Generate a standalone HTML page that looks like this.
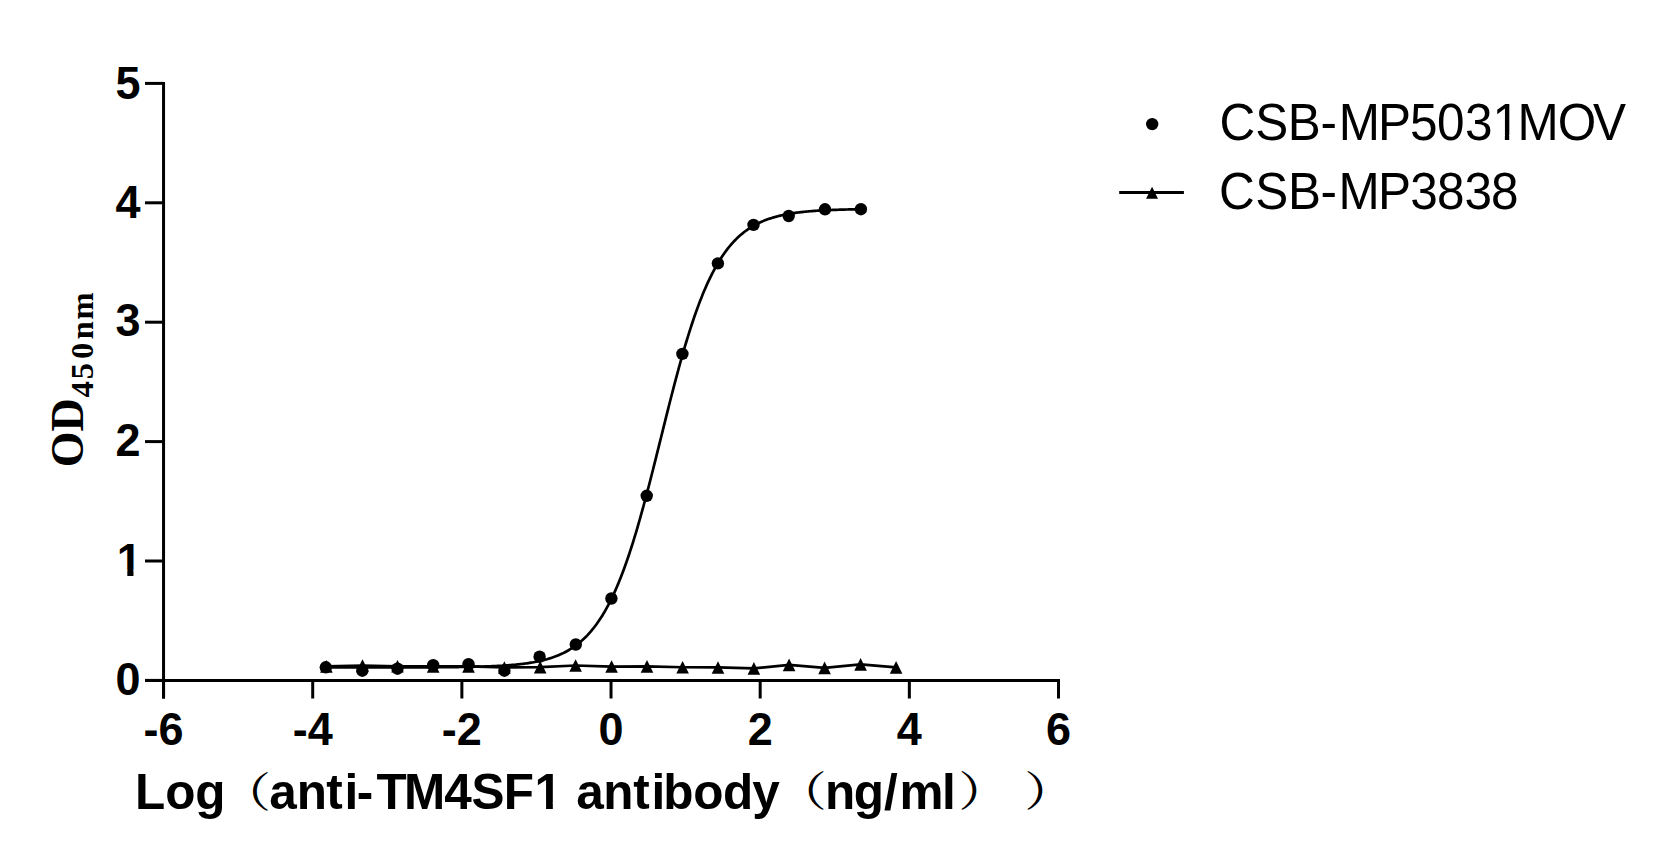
<!DOCTYPE html>
<html><head><meta charset="utf-8"><title>ELISA binding curve</title>
<style>html,body{margin:0;padding:0;background:#fff;}body{width:1667px;height:863px;overflow:hidden;}svg{display:block;}</style>
</head><body>
<svg width="1667" height="863" viewBox="0 0 1667 863">
<rect width="1667" height="863" fill="#fff"/>
<g stroke="#000" stroke-width="3" fill="none">
<path d="M163.55,81.90 V698.5"/>
<path d="M145,680.40 H1060.00"/>
<path d="M145,680.40 H163.55"/>
<path d="M145,561.00 H163.55"/>
<path d="M145,441.60 H163.55"/>
<path d="M145,322.20 H163.55"/>
<path d="M145,202.80 H163.55"/>
<path d="M145,83.40 H163.55"/>
<path d="M163.55,680.40 V698.5"/>
<path d="M312.71,680.40 V698.5"/>
<path d="M461.87,680.40 V698.5"/>
<path d="M611.03,680.40 V698.5"/>
<path d="M760.18,680.40 V698.5"/>
<path d="M909.34,680.40 V698.5"/>
<path d="M1058.50,680.40 V698.5"/>
</g>
<polyline points="325.80,667.41 327.14,667.41 328.48,667.41 329.82,667.41 331.16,667.41 332.51,667.41 333.85,667.41 335.19,667.41 336.53,667.41 337.87,667.41 339.21,667.41 340.55,667.41 341.89,667.41 343.23,667.40 344.58,667.40 345.92,667.40 347.26,667.40 348.60,667.40 349.94,667.40 351.28,667.40 352.62,667.40 353.96,667.40 355.30,667.40 356.65,667.40 357.99,667.40 359.33,667.40 360.67,667.40 362.01,667.40 363.35,667.40 364.69,667.40 366.03,667.40 367.37,667.40 368.72,667.40 370.06,667.39 371.40,667.39 372.74,667.39 374.08,667.39 375.42,667.39 376.76,667.39 378.10,667.39 379.44,667.39 380.79,667.39 382.13,667.39 383.47,667.38 384.81,667.38 386.15,667.38 387.49,667.38 388.83,667.38 390.17,667.38 391.51,667.38 392.86,667.37 394.20,667.37 395.54,667.37 396.88,667.37 398.22,667.37 399.56,667.36 400.90,667.36 402.24,667.36 403.58,667.36 404.93,667.35 406.27,667.35 407.61,667.35 408.95,667.35 410.29,667.34 411.63,667.34 412.97,667.34 414.31,667.33 415.65,667.33 416.99,667.32 418.34,667.32 419.68,667.32 421.02,667.31 422.36,667.31 423.70,667.30 425.04,667.30 426.38,667.29 427.72,667.29 429.06,667.28 430.41,667.27 431.75,667.27 433.09,667.26 434.43,667.25 435.77,667.24 437.11,667.24 438.45,667.23 439.79,667.22 441.13,667.21 442.48,667.20 443.82,667.19 445.16,667.18 446.50,667.17 447.84,667.16 449.18,667.14 450.52,667.13 451.86,667.12 453.20,667.10 454.55,667.09 455.89,667.07 457.23,667.06 458.57,667.04 459.91,667.02 461.25,667.00 462.59,666.98 463.93,666.96 465.27,666.94 466.62,666.92 467.96,666.89 469.30,666.87 470.64,666.84 471.98,666.81 473.32,666.79 474.66,666.76 476.00,666.72 477.34,666.69 478.69,666.66 480.03,666.62 481.37,666.58 482.71,666.54 484.05,666.50 485.39,666.46 486.73,666.41 488.07,666.36 489.41,666.31 490.76,666.26 492.10,666.20 493.44,666.14 494.78,666.08 496.12,666.02 497.46,665.95 498.80,665.88 500.14,665.81 501.48,665.73 502.83,665.65 504.17,665.57 505.51,665.48 506.85,665.38 508.19,665.29 509.53,665.19 510.87,665.08 512.21,664.97 513.55,664.85 514.90,664.73 516.24,664.60 517.58,664.46 518.92,664.32 520.26,664.17 521.60,664.02 522.94,663.85 524.28,663.68 525.62,663.50 526.97,663.32 528.31,663.12 529.65,662.92 530.99,662.70 532.33,662.48 533.67,662.24 535.01,661.99 536.35,661.74 537.69,661.46 539.04,661.18 540.38,660.88 541.72,660.57 543.06,660.25 544.40,659.91 545.74,659.55 547.08,659.18 548.42,658.79 549.76,658.38 551.11,657.95 552.45,657.51 553.79,657.04 555.13,656.55 556.47,656.04 557.81,655.50 559.15,654.94 560.49,654.36 561.83,653.75 563.18,653.11 564.52,652.44 565.86,651.74 567.20,651.01 568.54,650.25 569.88,649.45 571.22,648.62 572.56,647.75 573.90,646.84 575.25,645.90 576.59,644.91 577.93,643.88 579.27,642.80 580.61,641.68 581.95,640.51 583.29,639.29 584.63,638.02 585.97,636.70 587.32,635.32 588.66,633.88 590.00,632.38 591.34,630.83 592.68,629.21 594.02,627.52 595.36,625.77 596.70,623.95 598.04,622.06 599.38,620.09 600.73,618.05 602.07,615.93 603.41,613.74 604.75,611.46 606.09,609.10 607.43,606.66 608.77,604.13 610.11,601.51 611.45,598.81 612.80,596.01 614.14,593.12 615.48,590.13 616.82,587.06 618.16,583.88 619.50,580.61 620.84,577.24 622.18,573.78 623.52,570.21 624.87,566.55 626.21,562.79 627.55,558.93 628.89,554.97 630.23,550.92 631.57,546.78 632.91,542.54 634.25,538.20 635.59,533.78 636.94,529.27 638.28,524.67 639.62,520.00 640.96,515.24 642.30,510.40 643.64,505.50 644.98,500.52 646.32,495.48 647.66,490.38 649.01,485.23 650.35,480.03 651.69,474.78 653.03,469.49 654.37,464.17 655.71,458.81 657.05,453.44 658.39,448.05 659.73,442.65 661.08,437.24 662.42,431.83 663.76,426.43 665.10,421.05 666.44,415.68 667.78,410.33 669.12,405.02 670.46,399.75 671.80,394.51 673.15,389.32 674.49,384.19 675.83,379.11 677.17,374.09 678.51,369.14 679.85,364.25 681.19,359.44 682.53,354.71 683.87,350.06 685.22,345.49 686.56,341.01 687.90,336.62 689.24,332.31 690.58,328.10 691.92,323.99 693.26,319.97 694.60,316.05 695.94,312.22 697.29,308.49 698.63,304.86 699.97,301.33 701.31,297.90 702.65,294.56 703.99,291.32 705.33,288.18 706.67,285.13 708.01,282.18 709.36,279.32 710.70,276.55 712.04,273.87 713.38,271.28 714.72,268.78 716.06,266.37 717.40,264.04 718.74,261.79 720.08,259.62 721.43,257.53 722.77,255.51 724.11,253.57 725.45,251.70 726.79,249.90 728.13,248.17 729.47,246.51 730.81,244.91 732.15,243.38 733.50,241.90 734.84,240.48 736.18,239.12 737.52,237.81 738.86,236.56 740.20,235.36 741.54,234.20 742.88,233.10 744.22,232.03 745.57,231.02 746.91,230.04 748.25,229.11 749.59,228.22 750.93,227.36 752.27,226.54 753.61,225.75 754.95,225.00 756.29,224.28 757.64,223.59 758.98,222.94 760.32,222.31 761.66,221.70 763.00,221.13 764.34,220.57 765.68,220.05 767.02,219.54 768.36,219.06 769.71,218.60 771.05,218.16 772.39,217.74 773.73,217.34 775.07,216.95 776.41,216.59 777.75,216.23 779.09,215.90 780.43,215.58 781.77,215.27 783.12,214.98 784.46,214.70 785.80,214.44 787.14,214.18 788.48,213.94 789.82,213.71 791.16,213.48 792.50,213.27 793.84,213.07 795.19,212.88 796.53,212.69 797.87,212.52 799.21,212.35 800.55,212.19 801.89,212.04 803.23,211.89 804.57,211.75 805.91,211.62 807.26,211.49 808.60,211.37 809.94,211.25 811.28,211.14 812.62,211.04 813.96,210.94 815.30,210.84 816.64,210.75 817.98,210.66 819.33,210.58 820.67,210.50 822.01,210.42 823.35,210.35 824.69,210.28 826.03,210.22 827.37,210.15 828.71,210.09 830.05,210.04 831.40,209.98 832.74,209.93 834.08,209.88 835.42,209.83 836.76,209.79 838.10,209.74 839.44,209.70 840.78,209.66 842.12,209.63 843.47,209.59 844.81,209.56 846.15,209.52 847.49,209.49 848.83,209.46 850.17,209.43 851.51,209.41 852.85,209.38 854.19,209.36 855.54,209.33 856.88,209.31 858.22,209.29 859.56,209.27 860.90,209.25" fill="none" stroke="#000" stroke-width="2.7" stroke-linejoin="round"/>
<polyline points="326.40,666.40 362.50,665.50 397.50,666.30 433.20,666.40 468.50,666.40 504.40,667.50 540.20,667.20 575.60,665.50 611.60,666.55 647.00,666.35 682.60,667.25 718.00,667.45 753.90,668.35 789.10,664.85 824.60,667.85 860.60,664.40 896.10,667.35" fill="none" stroke="#000" stroke-width="2.7" stroke-linejoin="miter"/>
<g fill="#000">
<polygon points="326.40,660.10 332.70,672.70 320.10,672.70"/>
<polygon points="362.50,659.20 368.80,671.80 356.20,671.80"/>
<polygon points="397.50,660.00 403.80,672.60 391.20,672.60"/>
<polygon points="433.20,660.10 439.50,672.70 426.90,672.70"/>
<polygon points="468.50,660.10 474.80,672.70 462.20,672.70"/>
<polygon points="504.40,661.20 510.70,673.80 498.10,673.80"/>
<polygon points="540.20,660.90 546.50,673.50 533.90,673.50"/>
<polygon points="575.60,659.20 581.90,671.80 569.30,671.80"/>
<polygon points="611.60,660.25 617.90,672.85 605.30,672.85"/>
<polygon points="647.00,660.05 653.30,672.65 640.70,672.65"/>
<polygon points="682.60,660.95 688.90,673.55 676.30,673.55"/>
<polygon points="718.00,661.15 724.30,673.75 711.70,673.75"/>
<polygon points="753.90,662.05 760.20,674.65 747.60,674.65"/>
<polygon points="789.10,658.55 795.40,671.15 782.80,671.15"/>
<polygon points="824.60,661.55 830.90,674.15 818.30,674.15"/>
<polygon points="860.60,658.10 866.90,670.70 854.30,670.70"/>
<polygon points="896.10,661.05 902.40,673.65 889.80,673.65"/>
<circle cx="325.80" cy="667.30" r="6.2"/>
<circle cx="362.30" cy="670.70" r="6.2"/>
<circle cx="397.50" cy="668.70" r="6.2"/>
<circle cx="433.20" cy="665.20" r="6.2"/>
<circle cx="468.50" cy="664.20" r="6.2"/>
<circle cx="504.40" cy="670.70" r="6.2"/>
<circle cx="539.60" cy="656.70" r="6.2"/>
<circle cx="575.80" cy="644.50" r="6.2"/>
<circle cx="611.40" cy="598.50" r="6.2"/>
<circle cx="646.70" cy="495.80" r="6.2"/>
<circle cx="682.40" cy="353.90" r="6.2"/>
<circle cx="717.90" cy="263.40" r="6.2"/>
<circle cx="753.50" cy="224.90" r="6.2"/>
<circle cx="788.70" cy="216.00" r="6.2"/>
<circle cx="825.00" cy="209.30" r="6.2"/>
<circle cx="860.90" cy="209.20" r="6.2"/>
</g>
<text transform="translate(140.6,694.60) scale(1,1.04)" font-family="Liberation Sans, Arial, sans-serif" font-weight="bold" font-size="45" text-anchor="end">0</text>
<text transform="translate(116.8,575.70) scale(1,1.04)" font-family="Liberation Sans, Arial, sans-serif" font-weight="bold" font-size="45">1</text>
<rect x="118.63" y="569.92" width="8.67" height="7.28" fill="#fff"/><rect x="133.48" y="569.92" width="8.10" height="7.28" fill="#fff"/>
<text transform="translate(140.6,455.80) scale(1,1.04)" font-family="Liberation Sans, Arial, sans-serif" font-weight="bold" font-size="45" text-anchor="end">2</text>
<text transform="translate(140.6,336.30) scale(1,1.04)" font-family="Liberation Sans, Arial, sans-serif" font-weight="bold" font-size="45" text-anchor="end">3</text>
<text transform="translate(140.6,217.90) scale(1,1.04)" font-family="Liberation Sans, Arial, sans-serif" font-weight="bold" font-size="45" text-anchor="end">4</text>
<text transform="translate(140.6,98.50) scale(1,1.04)" font-family="Liberation Sans, Arial, sans-serif" font-weight="bold" font-size="45" text-anchor="end">5</text>
<text transform="translate(163.55,744.6) scale(1,1.04)" font-family="Liberation Sans, Arial, sans-serif" font-weight="bold" font-size="45" text-anchor="middle">-6</text>
<text transform="translate(312.71,744.6) scale(1,1.04)" font-family="Liberation Sans, Arial, sans-serif" font-weight="bold" font-size="45" text-anchor="middle">-4</text>
<text transform="translate(461.87,744.6) scale(1,1.04)" font-family="Liberation Sans, Arial, sans-serif" font-weight="bold" font-size="45" text-anchor="middle">-2</text>
<text transform="translate(611.03,744.6) scale(1,1.04)" font-family="Liberation Sans, Arial, sans-serif" font-weight="bold" font-size="45" text-anchor="middle">0</text>
<text transform="translate(760.18,744.6) scale(1,1.04)" font-family="Liberation Sans, Arial, sans-serif" font-weight="bold" font-size="45" text-anchor="middle">2</text>
<text transform="translate(909.34,744.6) scale(1,1.04)" font-family="Liberation Sans, Arial, sans-serif" font-weight="bold" font-size="45" text-anchor="middle">4</text>
<text transform="translate(1058.50,744.6) scale(1,1.04)" font-family="Liberation Sans, Arial, sans-serif" font-weight="bold" font-size="45" text-anchor="middle">6</text>
<text transform="translate(0,808.8) scale(1,1.01)" font-family="Liberation Sans, Arial, sans-serif" font-weight="bold" font-size="49.5"><tspan x="134.89 165.13 195.36" y="0">Log</tspan><tspan font-family="Liberation Serif, Noto Serif CJK SC, Noto Serif CJK JP, serif" font-weight="500" font-size="41.0" x="219.64" y="-2.01" textLength="51.25" lengthAdjust="spacingAndGlyphs">（</tspan><tspan x="269.35 296.74 326.30 344.54 356.67 376.44 403.99 444.35 471.47 503.69 534.50 562.03 576.35 603.24 633.30 651.54 663.24 693.17 722.97 752.31" y="0">anti-TM4SF1 antibody</tspan><tspan font-family="Liberation Serif, Noto Serif CJK SC, Noto Serif CJK JP, serif" font-weight="500" font-size="41.0" x="775.54" y="-2.31" textLength="51.25" lengthAdjust="spacingAndGlyphs">（</tspan><tspan x="825.04 853.67 884.02 899.44 941.94" y="0">ng/ml</tspan><tspan font-family="Liberation Serif, Noto Serif CJK SC, Noto Serif CJK JP, serif" font-weight="500" font-size="41.0" x="958.27" y="-2.80" textLength="51.25" lengthAdjust="spacingAndGlyphs">）</tspan><tspan font-family="Liberation Serif, Noto Serif CJK SC, Noto Serif CJK JP, serif" font-weight="500" font-size="41.0" x="1024.17" y="-3.00" textLength="51.25" lengthAdjust="spacingAndGlyphs">）</tspan></text>
<rect x="536.62" y="802.70" width="9.44" height="7.60" fill="#fff"/><rect x="552.84" y="802.70" width="8.81" height="7.60" fill="#fff"/>
<text transform="rotate(-90)" font-family="Liberation Serif, Times New Roman, serif" font-weight="bold" font-size="46" fill="#000"><tspan x="-467.2" y="82.6">OD</tspan><tspan font-size="32.5" x="-397.44 -379.18 -358.92 -339.26 -319.46" y="93">450nm</tspan></text>
<circle cx="1152.2" cy="124.1" r="6.2"/>
<path d="M1119.2,192.5 H1183.9" stroke="#000" stroke-width="3"/>
<polygon points="1152.05,186.80 1158.00,198.70 1146.10,198.70"/>
<text transform="translate(0,139.8) scale(1,1.035)" x="1219.40 1255.25 1287.74 1320.40 1338.64 1378.04 1410.12 1437.07 1464.90 1492.40 1517.50 1557.66 1592.98" y="0" font-family="Liberation Sans, Arial, sans-serif" font-size="49.5">CSB-MP5031MOV</text>
<rect x="1495.17" y="134.97" width="9.68" height="6.33" fill="#fff"/><rect x="1509.22" y="134.97" width="9.29" height="6.33" fill="#fff"/>
<text transform="translate(0,208.9) scale(1,1.035)" x="1219.10 1255.25 1288.10 1320.40 1338.60 1378.00 1410.20 1437.10 1464.40 1491.10" y="0" font-family="Liberation Sans, Arial, sans-serif" font-size="49.5">CSB-MP3838</text>
</svg>
</body></html>
